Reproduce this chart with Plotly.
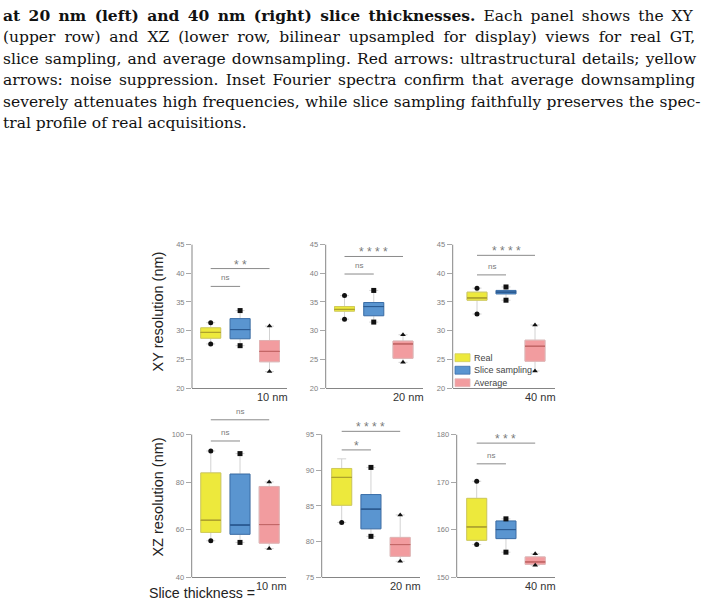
import plotly.graph_objects as go

W, H = 704, 610

# ---------------- data ----------------
series = ["Real", "Slice sampling", "Average"]
fill_colors = ["#ede93c", "#5a95d0", "#f29c9f"]
border_colors = ["#d0cb58", "#3b6fa9", "#e2b2b3"]
median_colors = ["#aea32d", "#2c5b92", "#c46767"]
point_symbols = ["circle", "square", "triangle-up"]

thickness_labels = ["10 nm", "20 nm", "40 nm", "10 nm", "20 nm", "40 nm"]

# XY resolution (nm), slice thickness 10 nm
xy10_lower = [27.7, 27.4, 22.9]
xy10_q1 = [28.7, 28.6, 24.6]
xy10_median = [29.7, 30.2, 26.4]
xy10_q3 = [30.5, 32.1, 28.3]
xy10_upper = [31.4, 33.5, 30.8]
xy10_points = [[31.4, 27.7], [33.5, 27.4], [30.8, 22.9]]
xy10_sig = [(0, 1, 37.7, "ns"), (0, 2, 40.8, "**")]

# XY resolution (nm), slice thickness 20 nm
xy20_lower = [32.0, 31.5, 24.5]
xy20_q1 = [33.4, 32.6, 25.2]
xy20_median = [33.7, 34.2, 27.7]
xy20_q3 = [34.2, 34.9, 28.2]
xy20_upper = [36.1, 37.0, 29.3]
xy20_points = [[36.1, 32.0], [37.0, 31.5], [29.3, 24.5]]
xy20_sig = [(0, 1, 39.85, "ns"), (0, 2, 42.9, "****")]

# XY resolution (nm), slice thickness 40 nm
xy40_lower = [32.9, 35.3, 23.0]
xy40_q1 = [35.3, 36.4, 24.7]
xy40_median = [35.7, 36.7, 27.3]
xy40_q3 = [36.7, 37.0, 28.35]
xy40_upper = [37.4, 37.6, 31.0]
xy40_points = [[37.4, 32.9], [37.6, 35.3], [31.0, 23.0]]
xy40_sig = [(0, 1, 39.7, "ns"), (0, 2, 43.1, "****")]

# XZ resolution (nm), slice thickness 10 nm
xz10_lower = [55.4, 54.7, 52.1]
xz10_q1 = [58.9, 58.1, 54.4]
xz10_median = [64.0, 62.0, 62.2]
xz10_q3 = [83.9, 83.4, 78.2]
xz10_upper = [93.1, 92.0, 80.1]
xz10_points = [[93.1, 55.4], [92.0, 54.7], [80.1, 52.1]]
xz10_sig = [(0, 1, 97.3, "ns"), (0, 2, 106.2, "ns")]

# XZ resolution (nm), slice thickness 20 nm
xz20_lower = [82.7, 80.75, 77.25]
xz20_q1 = [85.1, 81.8, 77.95]
xz20_median = [89.0, 84.55, 79.6]
xz20_q3 = [90.25, 86.6, 80.6]
xz20_upper = [91.6, 90.4, 83.75]
xz20_points = [[82.7], [90.4, 80.75], [83.75, 77.25]]
xz20_sig = [(0, 1, 92.85, "*"), (0, 2, 95.45, "****")]

# XZ resolution (nm), slice thickness 40 nm
xz40_lower = [156.9, 155.3, 152.55]
xz40_q1 = [157.8, 158.15, 152.75]
xz40_median = [160.6, 160.05, 153.25]
xz40_q3 = [166.6, 161.85, 154.3]
xz40_upper = [170.2, 162.3, 154.95]
xz40_points = [[170.2, 156.9], [162.3, 155.3], [154.95, 152.55]]
xz40_sig = [(0, 1, 173.85, "ns"), (0, 2, 178.2, "***")]

xy_ticks = [20, 25, 30, 35, 40, 45]
xz10_ticks = [40, 60, 80, 100]
xz20_ticks = [75, 80, 85, 90, 95]
xz40_ticks = [150, 160, 170, 180]

caption_bold = "at 20 nm (left) and 40 nm (right) slice thicknesses."
caption_lines = [
    " Each panel shows the XY",
    "(upper row) and XZ (lower row, bilinear upsampled for display) views for real GT,",
    "slice sampling, and average downsampling. Red arrows: ultrastructural details; yellow",
    "arrows: noise suppression. Inset Fourier spectra confirm that average downsampling",
    "severely attenuates high frequencies, while slice sampling faithfully preserves the spec-",
    "tral profile of real acquisitions.",
]

# ---------------- layout geometry (pixels) ----------------
# left, right, first centre, last centre, px of range bottom, px of top tick
geom = [
    (192.0, 287.0, 210.7, 269.5, 390.0, 244.0),
    (325.7, 423.3, 344.5, 403.0, 390.0, 244.0),
    (452.7, 555.0, 477.0, 535.0, 390.0, 244.0),
    (191.7, 286.0, 210.8, 269.2, 582.0, 437.0),
    (321.7, 420.0, 341.7, 400.2, 582.0, 437.0),
    (456.7, 555.0, 476.7, 535.2, 582.0, 437.0),
]

panels = [
    dict(lower=xy10_lower, q1=xy10_q1, med=xy10_median, q3=xy10_q3, upper=xy10_upper,
         pts=xy10_points, sig=xy10_sig, ticks=xy_ticks, top=45),
    dict(lower=xy20_lower, q1=xy20_q1, med=xy20_median, q3=xy20_q3, upper=xy20_upper,
         pts=xy20_points, sig=xy20_sig, ticks=xy_ticks, top=45),
    dict(lower=xy40_lower, q1=xy40_q1, med=xy40_median, q3=xy40_q3, upper=xy40_upper,
         pts=xy40_points, sig=xy40_sig, ticks=xy_ticks, top=45),
    dict(lower=xz10_lower, q1=xz10_q1, med=xz10_median, q3=xz10_q3, upper=xz10_upper,
         pts=xz10_points, sig=xz10_sig, ticks=xz10_ticks, top=107),
    dict(lower=xz20_lower, q1=xz20_q1, med=xz20_median, q3=xz20_q3, upper=xz20_upper,
         pts=xz20_points, sig=xz20_sig, ticks=xz20_ticks, top=96),
    dict(lower=xz40_lower, q1=xz40_q1, med=xz40_median, q3=xz40_q3, upper=xz40_upper,
         pts=xz40_points, sig=xz40_sig, ticks=xz40_ticks, top=180),
]

AX_COLOR = "#858585"
SANS = "Liberation Sans, Arial, sans-serif"

fig = go.Figure()
shapes = []
annotations = []
layout_axes = {}

for p, (pan, g) in enumerate(zip(panels, geom)):
    n = p + 1
    xid = "x" if n == 1 else f"x{n}"
    yid = "y" if n == 1 else f"y{n}"
    left, right, c0, c2, ybot, ytick = g
    step = (c2 - c0) / 2.0
    bw = 20.0 / step
    lo = pan["ticks"][0]
    toptick = pan["ticks"][-1]
    hi = pan["top"]
    ppu = (ybot - ytick) / (toptick - lo)
    ytop_px = ybot - (hi - lo) * ppu

    layout_axes["xaxis" if n == 1 else f"xaxis{n}"] = dict(
        domain=[left / W, right / W],
        range=[-(c0 - left) / step, 2 + (right - c2) / step],
        anchor=yid, showline=True, linecolor=AX_COLOR, linewidth=1,
        showgrid=False, zeroline=False, showticklabels=False, ticks="",
        fixedrange=True,
    )
    layout_axes["yaxis" if n == 1 else f"yaxis{n}"] = dict(
        domain=[1 - ybot / H, 1 - ytop_px / H],
        range=[lo, hi], anchor=xid, showline=False,
        showgrid=False, zeroline=False, tickvals=pan["ticks"],
        ticks="outside", ticklen=5, tickwidth=1, tickcolor="#a8a8a8",
        tickfont=dict(family=SANS, size=7.5, color="#808080"),
        fixedrange=True,
    )
    # y axis line (bottom to top tick only)
    shapes.append(dict(type="line", xref=f"{xid} domain", yref=yid,
                       x0=0, x1=0, y0=lo, y1=toptick,
                       line=dict(color=AX_COLOR, width=1)))

    for i, name in enumerate(series):
        common = dict(x=[i], width=bw, xaxis=xid, yaxis=yid, showlegend=False,
                      boxpoints=False, hoverinfo="skip")
        # whiskers
        fig.add_trace(go.Box(q1=[pan["q1"][i]], median=[pan["med"][i]], q3=[pan["q3"][i]],
                             lowerfence=[pan["lower"][i]], upperfence=[pan["upper"][i]],
                             fillcolor="rgba(0,0,0,0)", line=dict(color="#d2d2d2", width=1),
                             whiskerwidth=0.45, **common))
        # box body
        fig.add_trace(go.Box(q1=[pan["q1"][i]], median=[pan["med"][i]], q3=[pan["q3"][i]],
                             lowerfence=[pan["q1"][i]], upperfence=[pan["q3"][i]],
                             fillcolor=fill_colors[i], line=dict(color=border_colors[i], width=1),
                             whiskerwidth=0, **common))
        # median line
        fig.add_trace(go.Box(q1=[pan["med"][i]], median=[pan["med"][i]], q3=[pan["med"][i]],
                             lowerfence=[pan["med"][i]], upperfence=[pan["med"][i]],
                             fillcolor="rgba(0,0,0,0)", line=dict(color=median_colors[i], width=1),
                             whiskerwidth=0, **common))
        pts = pan["pts"][i]
        fig.add_trace(go.Scatter(x=[i] * len(pts), y=pts, mode="markers",
                                 marker=dict(symbol=point_symbols[i], size=5, color="#111111"),
                                 xaxis=xid, yaxis=yid, showlegend=False, cliponaxis=False,
                                 hoverinfo="skip"))

    # significance brackets
    for (a, b, yv, lab) in pan["sig"]:
        shapes.append(dict(type="line", xref=xid, yref=yid, x0=a, x1=b, y0=yv, y1=yv,
                           line=dict(color="#8a8a8a", width=1)))
        if lab == "ns":
            annotations.append(dict(xref=xid, yref=yid, x=(a + b) / 2.0, y=yv, text=lab,
                                    showarrow=False, yanchor="bottom", yshift=2,
                                    font=dict(family=SANS, size=8, color="#7a7a7a")))
        else:
            annotations.append(dict(xref=xid, yref=yid, x=(a + b) / 2.0, y=yv,
                                    text=" ".join(lab), showarrow=False,
                                    yanchor="middle", yshift=4,
                                    font=dict(family=SANS, size=12, color="#7a7a7a")))

    # thickness label
    annotations.append(dict(xref=f"{xid} domain", yref=f"{yid} domain", x=1, y=0,
                            xanchor="right", yanchor="top", xshift=3, yshift=-1,
                            text=thickness_labels[p], showarrow=False,
                            font=dict(family=SANS, size=11, color="#333333")))

# manual legend in XY 40 nm panel
for i, name in enumerate(series):
    yc = 359 + i * 12.7
    shapes.append(dict(type="rect", xref="paper", yref="paper",
                       x0=455 / W, x1=470 / W, y0=1 - (yc + 4) / H, y1=1 - (yc - 4) / H,
                       fillcolor=fill_colors[i], line=dict(color=border_colors[i], width=0.8)))
    annotations.append(dict(xref="paper", yref="paper", x=471.5 / W, y=1 - yc / H,
                            xanchor="left", yanchor="middle", text=name, showarrow=False,
                            font=dict(family=SANS, size=9, color="#444444")))

# axis titles
annotations.append(dict(xref="paper", yref="paper", x=158 / W, y=1 - 312 / H,
                        text="XY resolution (nm)", textangle=-90, showarrow=False,
                        xanchor="center", yanchor="middle",
                        font=dict(family=SANS, size=14.5, color="#222222")))
annotations.append(dict(xref="paper", yref="paper", x=158 / W, y=1 - 501 / H,
                        text="XZ resolution (nm)", textangle=-90, showarrow=False,
                        xanchor="center", yanchor="middle",
                        font=dict(family=SANS, size=14.5, color="#222222")))
annotations.append(dict(xref="paper", yref="paper", x=147 / W, y=1 - 598 / H,
                        text="Slice thickness =", showarrow=False,
                        xanchor="left", yanchor="middle",
                        font=dict(family=SANS, size=14.2, color="#222222")))

# caption text (justified with word spacing)
line_y = [11.8, 33.8, 55.6, 77.3, 99.0, 120.8]
word_spacing = [3.0, 4.0, 1.2, 2.4, 0.4, 0.0]
for k, (txt, yc, ws) in enumerate(zip(caption_lines, line_y, word_spacing)):
    if k == 0:
        body = f"<b>{caption_bold}</b>{txt}"
    else:
        body = txt
    html = f"<span style='word-spacing:{ws}px'>{body}</span>"
    annotations.append(dict(xref="paper", yref="paper", x=1 / W, y=1 - yc / H,
                            xanchor="left", yanchor="middle", text=html, showarrow=False,
                            font=dict(family="DejaVu Serif, serif", size=15.5, color="#111111")))

fig.update_layout(
    width=W, height=H, margin=dict(l=0, r=0, t=0, b=0),
    paper_bgcolor="white", plot_bgcolor="white",
    boxmode="overlay", showlegend=False,
    shapes=shapes, annotations=annotations,
    **layout_axes,
)

fig.write_html("out.html")
